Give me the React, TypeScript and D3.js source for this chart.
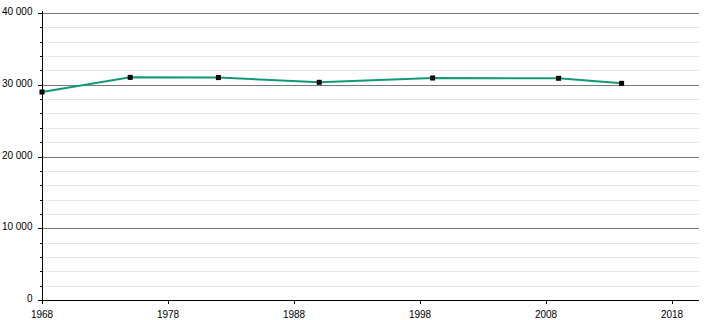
import React from "react";
import * as d3 from "d3";

const years = [1968, 1975, 1982, 1990, 1999, 2009, 2014];
const population = [28990, 31030, 31000, 30340, 30940, 30900, 30200];
const xTicks = [1968, 1978, 1988, 1998, 2008, 2018];
const yTicks = [0, 10000, 20000, 30000, 40000];

const W = 710, H = 320;
const left = 42, right = 699, top = 13, bottom = 300;

export default function App() {
  const x = d3.scaleLinear().domain([1968, 2020]).range([left, left + 52 * 12.6]);
  const y = d3.scaleLinear().domain([0, 40000]).range([bottom, top]);
  const minor = d3.range(0, 40001, 2000);
  const fmt = (v: number) => (v >= 1000 ? d3.format(",")(v).replace(",", " ") : String(v));
  const line = d3.line<number>().x((_, i) => x(years[i])).y((d) => y(d));
  return (
    <svg width={W} height={H} style={{ position: "absolute", left: 0, top: 0 }} fontFamily="Liberation Sans, Arial, sans-serif" fontSize={10}>
      {minor.filter((v) => v % 10000 !== 0).map((v) => (
        <line key={"m" + v} x1={left} x2={right} y1={Math.round(y(v)) + 0.5} y2={Math.round(y(v)) + 0.5} stroke="#e6e6e6" />
      ))}
      {yTicks.filter((v) => v > 0).map((v) => (
        <line key={"g" + v} x1={left} x2={right} y1={Math.round(y(v)) + 0.5} y2={Math.round(y(v)) + 0.5} stroke="#777" />
      ))}
      {minor.map((v) => (
        <line key={"t" + v} x1={v % 10000 === 0 ? left - 4 : left - 2} x2={left} y1={Math.round(y(v)) + 0.5} y2={Math.round(y(v)) + 0.5} stroke="#000" />
      ))}
      {yTicks.map((v) => (
        <text key={"l" + v} x={32.5} y={y(v)} dy="0.2em" textAnchor="end" fill="#000">{fmt(v)}</text>
      ))}
      <line x1={left + 0.5} x2={left + 0.5} y1={top - 2} y2={bottom} stroke="#000" />
      <line x1={left} x2={right} y1={bottom + 0.5} y2={bottom + 0.5} stroke="#000" />
      {xTicks.map((v) => (
        <g key={"x" + v}>
          <line x1={Math.round(x(v)) + 0.5} x2={Math.round(x(v)) + 0.5} y1={bottom} y2={bottom + 4} stroke="#000" />
          <text x={x(v)} y={318} textAnchor="middle" fill="#000">{v}</text>
        </g>
      ))}
      <path d={line(population) || ""} fill="none" stroke="#129a76" strokeWidth={2} />
      {population.map((v, i) => (
        <rect key={"p" + i} x={x(years[i]) - 2.5} y={y(v) - 2.5} width={5} height={5} fill="#000" />
      ))}
    </svg>
  );
}
